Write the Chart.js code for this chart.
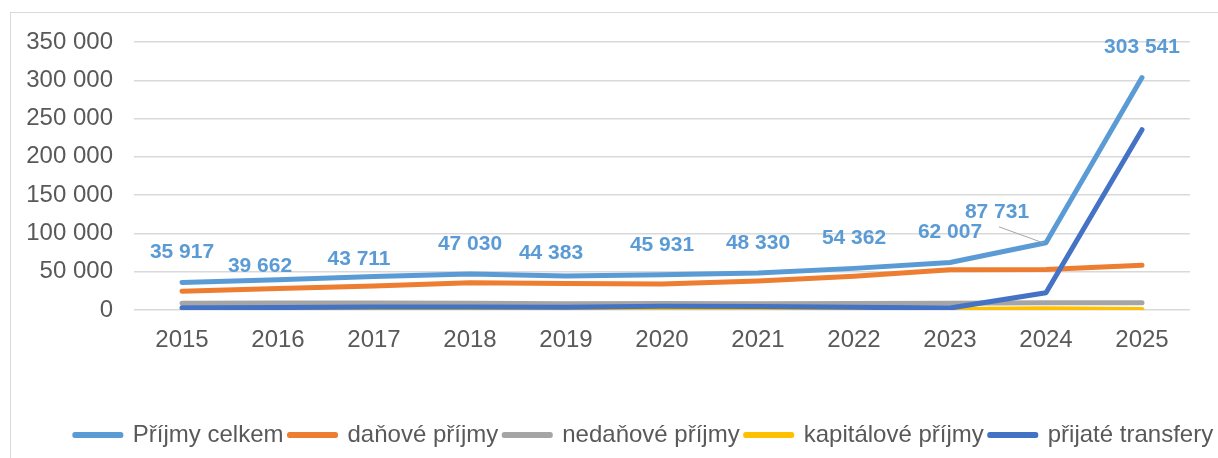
<!DOCTYPE html>
<html>
<head>
<meta charset="utf-8">
<script src="https://cdn.jsdelivr.net/npm/chart.js@4.4.1/dist/chart.umd.min.js"></script>
<style>
  html, body { margin: 0; padding: 0; background: #fff; overflow: hidden; width: 1218px; height: 458px; }
  #frame { position: absolute; left: 10px; top: 12px; width: 1266px; height: 480px; border: 1px solid #d9d9d9; }
  canvas { display: block; }
</style>
</head>
<body>
<div id="frame"><canvas id="chart" width="1266" height="444"></canvas></div>
<script>
// years and series (thousands CZK)
const years = ["2015", "2016", "2017", "2018", "2019", "2020", "2021", "2022", "2023", "2024", "2025"];
const prijmyCelkem = [35917, 39662, 43711, 47030, 44383, 45931, 48330, 54362, 62007, 87731, 303541];
const danovePrijmy = [24500, 28000, 31500, 35500, 34500, 34000, 38000, 44000, 52500, 53000, 58500];
const nedanovePrijmy = [8700, 9000, 9000, 8700, 8200, 8500, 8200, 8500, 8700, 9500, 9500];
const kapitalovePrijmy = [300, 300, 500, 500, 400, 800, 600, 500, 500, 1500, 500];
const prijateTransfery = [3000, 3200, 3800, 4000, 3500, 5000, 4500, 3500, 2500, 22500, 235500];

const FONT = '"Liberation Sans", Arial, sans-serif';

function fmt(n) {
  return n.toString().replace(/\B(?=(\d{3})+(?!\d))/g, " ");
}

// data labels for the first series, nudged like in the excel chart
const valueLabels = {
  id: "valueLabels",
  afterDatasetsDraw(chart, args, opts) {
    const meta = chart.getDatasetMeta(0);
    const ctx = chart.ctx;
    ctx.save();
    ctx.font = "bold 21px " + FONT;
    ctx.fillStyle = "#5B9BD5";
    ctx.textAlign = "center";
    ctx.textBaseline = "middle";
    meta.data.forEach((pt, i) => {
      const [dx, dy] = opts.nudge[i] || [0, -30];
      const x = pt.x + dx, y = pt.y + dy;
      if (opts.leader.includes(i)) {
        ctx.strokeStyle = "#A6A6A6";
        ctx.lineWidth = 1;
        ctx.beginPath();
        ctx.moveTo(x + 2, y + 15);
        ctx.lineTo(pt.x - 3, pt.y);
        ctx.stroke();
      }
      ctx.fillText(fmt(prijmyCelkem[i]), x, y);
    });
    ctx.restore();
  },
};

// centre the legend on the whole canvas, not only the padded area
const legendWide = {
  id: "legendWide",
  afterLayout(chart) {
    const lg = chart.legend;
    if (!lg) return;
    lg.left = 0;
    lg.right = chart.width;
    lg.width = chart.width;
  },
};

function series(label, data, color, order) {
  return {
    label: label,
    data: data,
    borderColor: color,
    backgroundColor: color,
    borderWidth: 5,
    borderCapStyle: "round",
    borderJoinStyle: "round",
    pointRadius: 0,
    tension: 0,
    order: order,
  };
}

const ctx = document.getElementById("chart").getContext("2d");
new Chart(ctx, {
  type: "line",
  data: {
    labels: years,
    datasets: [
      series("Příjmy celkem", prijmyCelkem, "#5B9BD5", 5),
      series("daňové příjmy", danovePrijmy, "#ED7D31", 4),
      series("nedaňové příjmy", nedanovePrijmy, "#A5A5A5", 3),
      series("kapitálové příjmy", kapitalovePrijmy, "#FFC000", 2),
      series("přijaté transfery", prijateTransfery, "#4472C4", 1),
    ],
  },
  options: {
    responsive: false,
    animation: false,
    layout: { padding: { top: 0, left: 0, right: 87, bottom: 0 } },
    scales: {
      x: {
        offset: true,
        grid: { display: false },
        border: { display: false },
        ticks: { font: { family: FONT, size: 24 }, color: "#595959", padding: 8 },
        afterFit: (axis) => { axis.height = 107; },
      },
      y: {
        min: 0,
        max: 350000,
        grid: { color: "#D9D9D9", lineWidth: 1.5, drawTicks: false },
        border: { display: false },
        ticks: {
          stepSize: 50000,
          font: { family: FONT, size: 24 },
          color: "#595959",
          padding: 21,
          callback: (v) => fmt(v),
        },
        afterFit: (axis) => {
          axis.width = 123;
          axis.paddingTop = 29;
          axis.paddingBottom = 0;
        },
      },
    },
    plugins: {
      legend: {
        position: "bottom",
        labels: {
          font: { family: FONT, size: 24 },
          color: "#595959",
          boxWidth: 46,
          boxHeight: 1,
          padding: 6,
          generateLabels(chart) {
            return chart.data.datasets.map((ds, i) => ({
              text: ds.label,
              fillStyle: ds.borderColor,
              strokeStyle: ds.borderColor,
              lineWidth: 5,
              lineCap: "round",
              lineJoin: "round",
              fontColor: "#595959",
              datasetIndex: i,
              hidden: false,
            }));
          },
        },
      },
      tooltip: { enabled: false },
      valueLabels: {
        nudge: { 1: [-18, -13], 2: [-15, -17], 4: [-15, -23], 9: [-49, -31] },
        leader: [9],
      },
    },
  },
  plugins: [valueLabels, legendWide],
});
</script>
</body>
</html>
